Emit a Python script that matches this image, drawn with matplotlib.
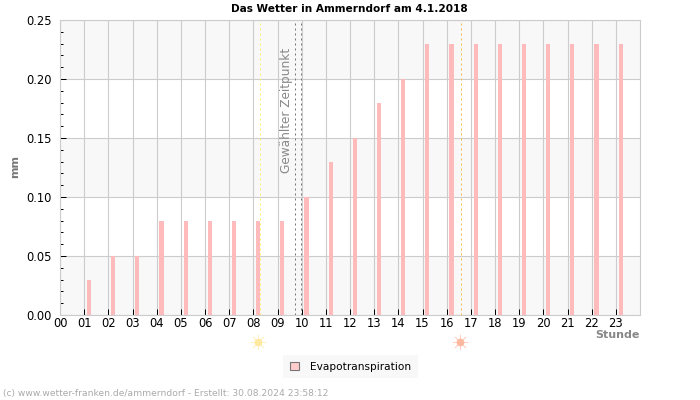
import matplotlib
matplotlib.use('Agg')
import matplotlib.pyplot as plt
from matplotlib.patches import Patch

# Stundenwerte Evapotranspiration
hours = list(range(1, 24))
evapo = [0.03, 0.05, 0.05, 0.08, 0.08, 0.08, 0.08, 0.08, 0.08, 0.10, 0.13, 0.15,
         0.18, 0.20, 0.23, 0.23, 0.23, 0.23, 0.23, 0.23, 0.23, 0.23, 0.23]
hour_labels = ['%02d' % h for h in range(24)]
y_ticks = [0.00, 0.05, 0.10, 0.15, 0.20, 0.25]
y_minor = [0.01, 0.02, 0.03, 0.04, 0.06, 0.07, 0.08, 0.09, 0.11, 0.12, 0.13, 0.14,
           0.16, 0.17, 0.18, 0.19, 0.21, 0.22, 0.23, 0.24]
bands = [(0.00, 0.05), (0.10, 0.15), (0.20, 0.25)]
sunrise = 8.27
sunset = 16.6
selected = [9.72, 9.97]

fig = plt.figure(figsize=(7, 4), dpi=100)
ax = fig.add_axes([60 / 700, 1 - 315 / 400, 580 / 700, 295 / 400])
ax.set_xlim(0, 24)
ax.set_ylim(0, 0.25)

for lo, hi in bands:
    ax.axhspan(lo, hi, color='#f8f8f8', lw=0, zorder=0)
ax.grid(True, axis='both', which='major', color='#cccccc', lw=0.8)
ax.set_axisbelow(True)

ax.bar([h + 0.2 for h in hours], evapo, width=0.17, color='#ffbbbb', zorder=3)

ax.axvline(sunrise, color='#ffee66', ls=(0, (2, 3)), lw=0.72, zorder=4)
ax.axvline(sunset, color='#ffbb44', ls=(0, (2, 3)), lw=0.72, zorder=4)
for s in selected:
    ax.axvline(s, color='#777777', ls=(0, (2, 3)), lw=0.72, zorder=4)
ax.text(9.37, 0.226, 'Gewählter Zeitpunkt', rotation=90, color='#888888', fontsize=8.7,
        ha='center', va='top', zorder=5)

ax.set_xticks(range(24))
ax.set_xticklabels(hour_labels)
ax.set_yticks(y_ticks)
ax.set_yticklabels(['%.2f' % v for v in y_ticks])
ax.set_yticks(y_minor, minor=True)
ax.tick_params(axis='both', which='major', direction='in', length=4, width=0.72,
               labelsize=8.3, color='black', pad=1.5)
ax.tick_params(axis='y', which='minor', direction='in', length=2, width=0.72, color='black')
ax.tick_params(axis='y', which='major', pad=6)
# kein Strich an den Achsenenden
ax.xaxis.get_major_ticks()[0].tick1line.set_visible(False)
ax.yaxis.get_major_ticks()[0].tick1line.set_visible(False)
ax.yaxis.get_major_ticks()[-1].tick1line.set_visible(False)
for sp in ax.spines.values():
    sp.set_color('#cccccc')
    sp.set_linewidth(0.8)

# Sonnenaufgang / Sonnenuntergang
for x, col, ray in [(sunrise - 0.08, '#ffe9a0', '#fff0c0'), (sunset - 0.05, '#ffb8a0', '#ffd0c0')]:
    ax.plot([x], [-0.0225], marker=(8, 2, 0), ms=11, color=ray, mew=0.6, clip_on=False)
    ax.plot([x], [-0.0225], marker='o', ms=5.5, color=col, mew=0, clip_on=False)

fig.text(15 / 700, 1 - 167 / 400, 'mm', rotation=90, color='#777777', fontsize=8,
         fontweight='bold', ha='center', va='center')
fig.text(640 / 700, 1 - 334.5 / 400, 'Stunde', color='#888888', fontsize=8,
         fontweight='bold', ha='right', va='center')
fig.text(349 / 700, 1 - 9 / 400, 'Das Wetter in Ammerndorf am 4.1.2018', fontsize=7.6,
         fontweight='bold', ha='center', va='center')
fig.text(3 / 700, 1 - 393.5 / 400, '(c) www.wetter-franken.de/ammerndorf - Erstellt: 30.08.2024 23:58:12',
         color='#aaaaaa', fontsize=6.6, ha='left', va='center')

fig.legend(handles=[Patch(facecolor='#ffcccc', edgecolor='#777777', lw=0.8, label='Evapotranspiration')],
           loc='center', bbox_to_anchor=(350.5 / 700, 1 - 366.5 / 400), fontsize=7.6,
           frameon=True, facecolor='#f8f8f8', edgecolor='none', fancybox=False, framealpha=1,
           handlelength=0.85, handleheight=0.85, handletextpad=1.1, borderpad=0.6)

fig.savefig('out.png', dpi=100)
